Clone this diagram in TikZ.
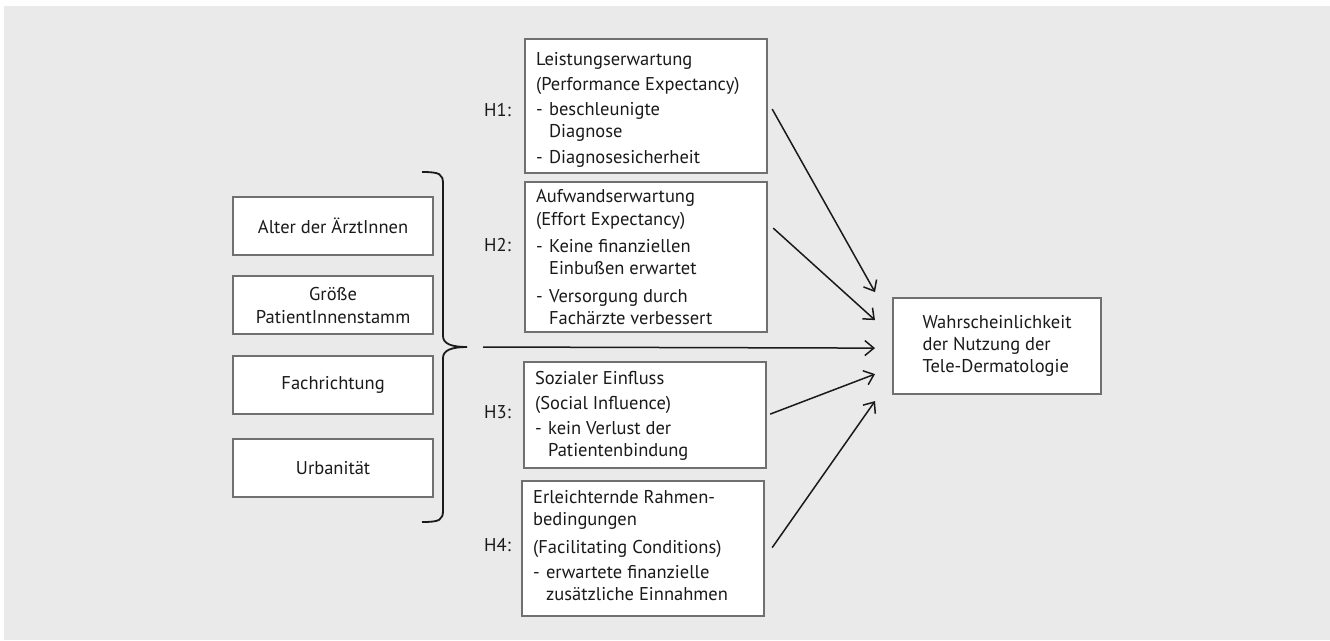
\documentclass[tikz,border=0pt]{standalone}
\usepackage{fontspec}
\setmainfont{PT Sans}
\usepackage{xcolor}
\usetikzlibrary{arrows.meta}

\definecolor{bggray}{HTML}{EAEAEB}
\definecolor{boxgray}{HTML}{707070}
\definecolor{inkblack}{HTML}{1A1A1A}

\newcommand{\dsh}{\makebox[13pt][l]{-}}
\newcommand{\ind}{\hspace*{13pt}}
\newcommand{\boxtxt}[3]{\parbox[b][#1][t]{220pt}{\raggedright\vspace*{#2}#3}}

\tikzset{
    hbox/.style = {draw = boxgray, line width = 2.2pt, fill = white, anchor = north west,
        inner xsep = 11pt, inner ysep = 0pt, text = inkblack},
    lbox/.style = {draw = boxgray, line width = 2.2pt, fill = white, anchor = north west,
        minimum width = 200pt, minimum height = 58pt, align = center, text = inkblack},
    tbox/.style = {draw = boxgray, line width = 2.2pt, fill = white, anchor = north west,
        minimum width = 208pt, minimum height = 96pt, align = left, text = inkblack},
    hlabel/.style = {anchor = east, inner sep = 0pt, text = inkblack},
    link/.style = {draw = inkblack, line width = 1.5pt,
        -{Straight Barb[length = 9pt, width = 15pt, line width = 1.5pt]}}
}

\begin{document}
\begin{tikzpicture}[x = 1pt, y = -1pt, font = \fontsize{18.5}{22}\selectfont]
        \useasboundingbox (0, 0) rectangle (1330, 640);
        \fill[bggray] (4, 6) rectangle (1330, 640);

        % H1 - H4
        \node[hbox] (h1) at (524, 38) {\boxtxt{134pt}{13pt}{Leistungserwartung\\[3pt]
            (Performance Expectancy)\\[3pt]
            \dsh beschleunigte\\ \ind Diagnose\\[4pt]
            \dsh Diagnosesicherheit}};
        \node[hbox] (h2) at (524, 181) {\boxtxt{150pt}{7pt}{Aufwandserwartung\\[1pt]
            (Effort Expectancy)\\[5pt]
            \dsh Keine finanziellen\\ \ind Einbußen erwartet\\[6pt]
            \dsh Versorgung durch\\ \ind Fachärzte verbessert}};
        \node[hbox] (h3) at (523, 361) {\boxtxt{106pt}{9pt}{Sozialer Einfluss\\[3pt]
            (Social Influence)\\[3pt]
            \dsh kein Verlust der\\ \ind Patientenbindung}};
        \node[hbox] (h4) at (521, 480) {\boxtxt{135pt}{9pt}{Erleichternde Rahmen-\\
            bedingungen\\[6pt]
            (Facilitating Conditions)\\[3pt]
            \dsh erwartete finanzielle\\ \ind zusätzliche Einnahmen}};

        \node[hlabel] (l1) at (511, 110) {H1:};
        \node[hlabel] (l2) at (511, 245) {H2:};
        \node[hlabel] (l3) at (511, 412) {H3:};
        \node[hlabel] (l4) at (511, 545) {H4:};

        % Kontrollvariablen
        \node[lbox] (alter) at (232, 196) {Alter der ÄrztInnen};
        \node[lbox] (groesse) at (232, 275) {Größe\\[1pt]PatientInnenstamm};
        \node[lbox] (fach) at (232, 355) {Fachrichtung};
        \node[lbox] (urban) at (232, 438) {Urbanität};

        \draw[inkblack, line width = 1.8pt] (422, 172) .. controls (440, 172) and (443, 174) .. (443, 184)
            -- (443, 336) .. controls (443, 344) and (452, 347) .. (467, 347)
            .. controls (452, 347) and (443, 350) .. (443, 358)
            -- (443, 510) .. controls (443, 520) and (440, 522) .. (422, 522);
        \coordinate (brtip) at (467, 347);

        % Zielvariable
        \node[tbox] (tgt) at (892, 297) {Wahrscheinlichkeit\\der Nutzung der\\Tele-Dermatologie};

        \coordinate (in1) at ([xshift = -17pt, yshift = 54pt] tgt.west);
        \coordinate (in2) at ([xshift = -17pt, yshift = 26pt] tgt.west);
        \coordinate (in3) at ([xshift = -17pt, yshift = -2pt] tgt.west);
        \coordinate (in4) at ([xshift = -17pt, yshift = -28pt] tgt.west);
        \coordinate (in5) at ([xshift = -17pt, yshift = -55pt] tgt.west);

        \draw[link] ([xshift = 4pt, yshift = -3pt] h1.east) -- (in1);
        \draw[link] ([xshift = 5pt, yshift = 29pt] h2.east) -- (in2);
        \draw[link] ([xshift = 16pt] brtip) -- (in3);
        \draw[link] ([xshift = 3pt, yshift = 1pt] h3.east) -- (in4);
        \draw[link] ([xshift = 7pt, yshift = 1pt] h4.east) -- (in5);
    \end{tikzpicture}
\end{document}
